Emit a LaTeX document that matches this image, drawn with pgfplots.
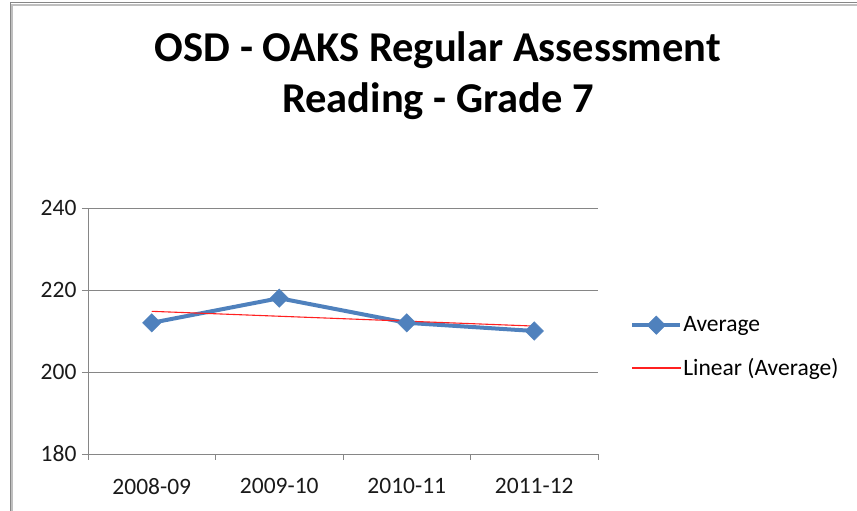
\documentclass[border=0pt]{standalone}
\usepackage{pgfplots}
\pgfplotsset{compat=1.18}
\usepackage{fontspec}
\setmainfont{Carlito}
\definecolor{xlblue}{HTML}{4F81BD}
\definecolor{gridgray}{HTML}{868686}
\definecolor{txt}{HTML}{1A1A1A}
\definecolor{trendred}{HTML}{FF2020}
\begin{document}
\begin{tikzpicture}
\useasboundingbox (0pt,0pt) rectangle (857pt,511pt);
\fill[white] (0pt,0pt) rectangle (857pt,511pt);
% frame (top and left visible)
\draw[line width=2pt, color=black!25] (12pt,0pt) -- (12pt,506pt) -- (857pt,506pt);
\draw[line width=1pt, color=gridgray] (10pt,0pt) -- (10pt,508pt) -- (857pt,508pt);
% title
\node[font=\fontsize{42.5}{51}\selectfont\bfseries, text=black, align=center] at (438pt,435pt) {OSD - OAKS Regular Assessment\\Reading - Grade 7};
\begin{axis}[
  at={(88pt,57pt)}, anchor=south west,
  scale only axis, width=510pt, height=246pt,
  xmin=0.5, xmax=4.5, ymin=180, ymax=240,
  xtick={1,2,3,4},
  xticklabels={2008-09,2009-10,2010-11,2011-12},
  major x tick style={draw=none},
  minor xtick={0.5,1.5,2.5,3.5,4.5},
  minor tick length=6pt,
  ytick={180,200,220,240},
  major tick length=6pt,
  tick align=outside,
  ymajorgrids,
  grid style={gridgray, line width=0.8pt},
  axis x line*=bottom, axis y line*=left,
  axis line style={gridgray, line width=0.8pt, -},
  tick style={gridgray, line width=0.8pt},
  ticklabel style={font=\fontsize{23.5}{26}\selectfont, text=txt},
  /pgf/number format/assume math mode=true,
  xticklabel style={yshift=-15pt},
  yticklabel style={xshift=-2pt},
  legend style={at={(1.063,0.435)}, anchor=west, fill=none, draw=none,
    font=\fontsize{23.5}{26}\selectfont,
    row sep=23pt, inner sep=0pt,
    nodes={inner sep=1pt}},
  legend cell align=left,
  legend image code/.code={\draw[mark repeat=2,mark phase=2,#1] plot coordinates {(0pt,0pt)(24pt,0pt)(48pt,0pt)};},
  clip=false,
]
\addplot[color=xlblue, line width=4pt, mark=square*, mark size=6.5pt, mark options={rotate=45, line width=0.5pt, fill=xlblue, draw=xlblue}]
  coordinates {(1,212) (2,218) (3,212) (4,210)};
\addlegendentry{Average}
\addplot[color=trendred, draw=trendred, line width=1.1pt, no marks,
  legend image code/.code={\fill[trendred] (0pt,-0.6pt) rectangle (48pt,0.6pt);}]
  coordinates {(1,214.8) (4,211.2)};
\addlegendentry{Linear (Average)}
\end{axis}
\end{tikzpicture}
\end{document}
